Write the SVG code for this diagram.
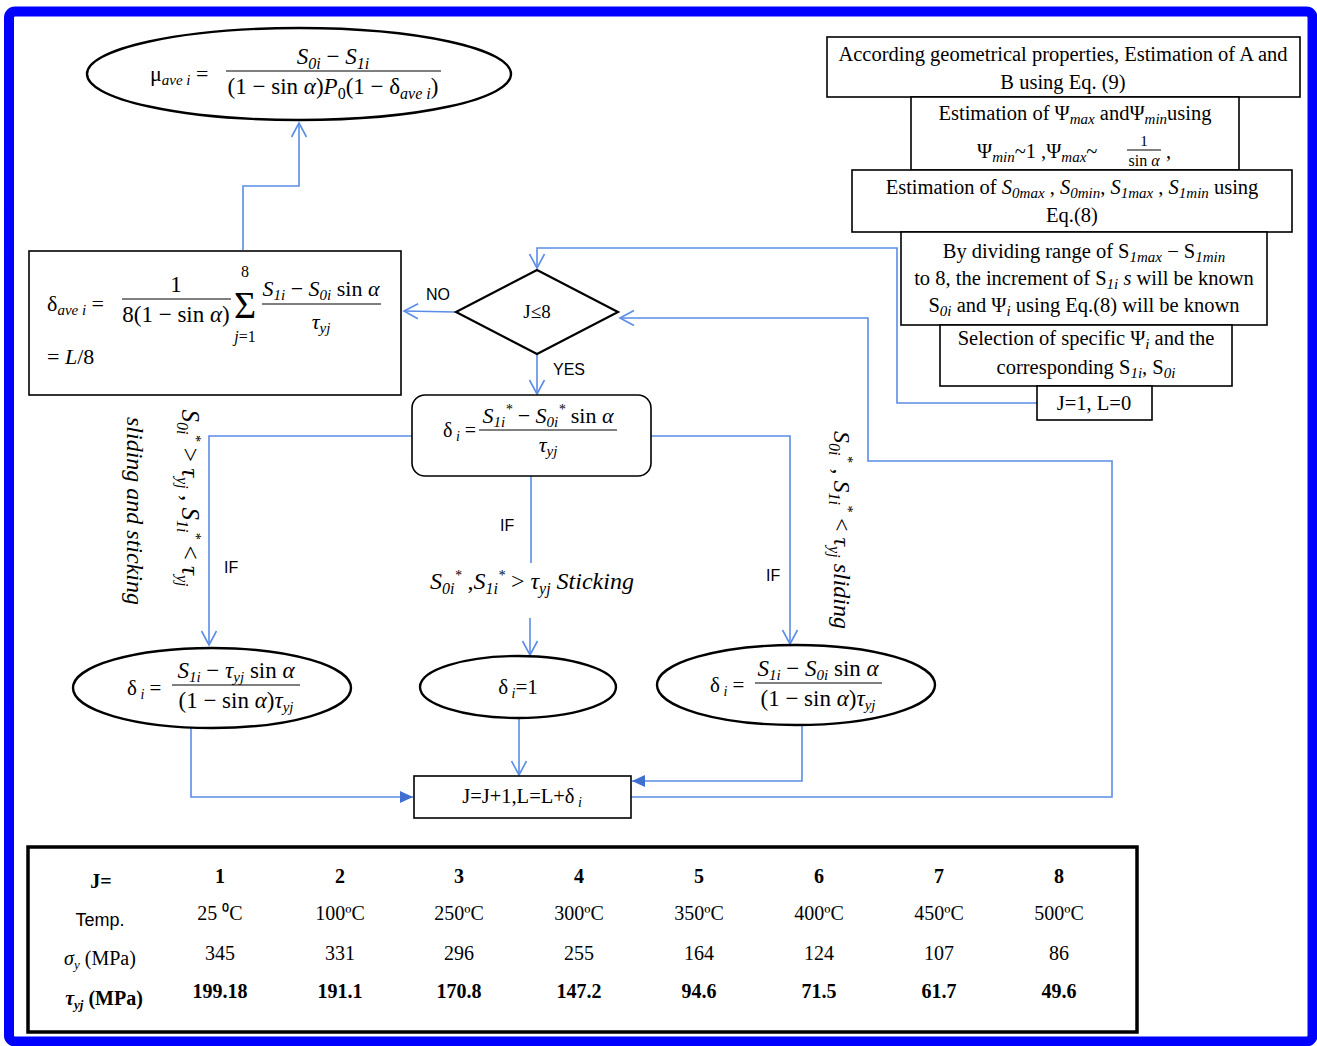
<svg xmlns="http://www.w3.org/2000/svg" width="1317" height="1046" viewBox="0 0 1317 1046">
<defs>
<style>
.box{fill:#fff;stroke:#000;stroke-width:1.6}
.ell{fill:#fff;stroke:#000;stroke-width:2.4}
.conn{fill:none;stroke:#5B8DE8;stroke-width:1.6}
.t{font-family:"Liberation Serif",serif;fill:#000}
.m{font-family:"Liberation Serif",serif;font-style:italic;fill:#000}
.u{font-style:normal}
.i{font-style:italic}
.lab{font-family:"Liberation Sans",sans-serif;font-size:16px;fill:#000}
.fl{stroke:#000;stroke-width:1.2}
.tb{font-family:"Liberation Serif",serif;font-size:20px;fill:#000;text-anchor:middle}
.bd{font-weight:bold}
</style>
<marker id="oa" markerWidth="18" markerHeight="18" refX="15" refY="9" orient="auto" markerUnits="userSpaceOnUse">
<path d="M1,1.5 L15,9 L1,16.5" fill="none" stroke="#5B8DE8" stroke-width="1.6"/>
</marker>
<marker id="fa" markerWidth="14" markerHeight="14" refX="13" refY="7" orient="auto" markerUnits="userSpaceOnUse">
<path d="M0,1 L13,7 L0,13 z" fill="#3F6FD0"/>
</marker>
</defs>
<rect width="1317" height="1046" fill="#fff"/>
<rect x="9" y="11.5" width="1303.5" height="1030" rx="6" fill="none" stroke="#0000FF" stroke-width="10"/>

<g id="connectors">
<path class="conn" d="M243,250 V186 H299 V123" marker-end="url(#oa)"/>
<path class="conn" d="M455,312 L404,311" marker-end="url(#oa)"/>
<path class="conn" d="M537,354 V394" marker-end="url(#oa)"/>
<path class="conn" d="M412,436 H209 V645" marker-end="url(#oa)"/>
<path class="conn" d="M651,436 H790 V644" marker-end="url(#oa)"/>
<path class="conn" d="M531,476 V563"/>
<path class="conn" d="M530,618 V655" marker-end="url(#oa)"/>
<path class="conn" d="M191,728 V797 H413" marker-end="url(#fa)"/>
<path class="conn" d="M519,718 V775" marker-end="url(#oa)"/>
<path class="conn" d="M802,725 V781 H632" marker-end="url(#fa)"/>
<path class="conn" d="M631,797 H1112 V461 H868 V318 H620" marker-end="url(#oa)"/>
<path class="conn" d="M1037,403 H897 V248 H537 V268" marker-end="url(#oa)"/>
<text class="lab" x="426" y="300">NO</text>
<text class="lab" x="553" y="375">YES</text>
<text class="lab" x="500" y="531">IF</text>
<text class="lab" x="224" y="573">IF</text>
<text class="lab" x="766" y="581">IF</text>
<text class="m" font-size="24" x="430" y="589">S<tspan font-size="16" dy="5">0i</tspan><tspan font-size="14" dy="-14">*</tspan><tspan dy="9" class="u"> ,</tspan>S<tspan font-size="16" dy="5">1i</tspan><tspan font-size="14" dy="-14">*</tspan><tspan dy="9" class="u"> &gt; </tspan>τ<tspan font-size="16" dy="5">yj</tspan><tspan dy="-5"> Sticking</tspan></text>
<text class="m" font-size="24" text-anchor="middle" transform="translate(127,511) rotate(90)">sliding and sticking</text>
<text class="m" font-size="25" text-anchor="middle" transform="translate(182,498) rotate(90)">S<tspan font-size="16" dy="5">0i</tspan><tspan font-size="14" dy="-14">*</tspan><tspan dy="9" class="u"> &gt; </tspan>τ<tspan font-size="16" dy="5">yj</tspan><tspan dy="-5" class="u"> , </tspan>S<tspan font-size="16" dy="5">1i</tspan><tspan font-size="14" dy="-14">*</tspan><tspan dy="9" class="u"> &lt; </tspan>τ<tspan font-size="16" dy="5">yj</tspan></text>
<text class="m" font-size="24" text-anchor="middle" transform="translate(834,530) rotate(90)">S<tspan font-size="16" dy="5">0i</tspan><tspan font-size="14" dy="-14">*</tspan><tspan dy="9" class="u"> , </tspan>S<tspan font-size="16" dy="5">1i</tspan><tspan font-size="14" dy="-14">*</tspan><tspan dy="9" class="u"> &lt; </tspan>τ<tspan font-size="16" dy="5">yj</tspan><tspan dy="-5">  sliding</tspan></text>
</g>

<g id="node-mu">
<ellipse class="ell" cx="299" cy="74" rx="212" ry="46"/>
<text class="m" font-size="22" x="150" y="81"><tspan class="u">μ</tspan><tspan font-size="15" dy="4">ave i</tspan><tspan dy="-4" class="u"> =</tspan></text>
<text class="m" font-size="23" x="333" y="64" text-anchor="middle">S<tspan font-size="16" dy="5">0i</tspan><tspan dy="-5" class="u"> − </tspan>S<tspan font-size="16" dy="5">1i</tspan></text>
<line class="fl" x1="226" y1="71" x2="441" y2="71"/>
<text class="m" font-size="23" x="333" y="94" text-anchor="middle"><tspan class="u">(1 − sin </tspan>α<tspan class="u">)</tspan>P<tspan font-size="16" dy="5" class="u">0</tspan><tspan dy="-5" class="u">(1 − δ</tspan><tspan font-size="16" dy="5">ave i</tspan><tspan dy="-5" class="u">)</tspan></text>
</g>

<g id="node-dave">
<rect class="box" x="29" y="251" width="372" height="144" stroke-width="2.4"/>
<text class="m" font-size="22" x="47" y="311"><tspan class="u">δ</tspan><tspan font-size="15" dy="4">ave i</tspan><tspan dy="-4" class="u"> =</tspan></text>
<text class="t" font-size="23" x="176" y="292" text-anchor="middle">1</text>
<line class="fl" x1="122" y1="299" x2="231" y2="299"/>
<text class="m" font-size="23" x="176" y="322" text-anchor="middle"><tspan class="u">8(1 − sin </tspan>α<tspan class="u">)</tspan></text>
<text class="t" font-size="38" x="245" y="318" text-anchor="middle">Σ</text>
<text class="t" font-size="16" x="245" y="277" text-anchor="middle">8</text>
<text class="m" font-size="16" x="245" y="342" text-anchor="middle">j<tspan class="u">=1</tspan></text>
<text class="m" font-size="22" x="321" y="296" text-anchor="middle">S<tspan font-size="15" dy="4">1i</tspan><tspan dy="-4" class="u"> − </tspan>S<tspan font-size="15" dy="4">0i</tspan><tspan dy="-4" class="u"> sin </tspan>α</text>
<line class="fl" x1="262" y1="304" x2="381" y2="304"/>
<text class="m" font-size="22" x="321" y="329" text-anchor="middle">τ<tspan font-size="15" dy="4">yj</tspan></text>
<text class="m" font-size="22" x="47" y="364"><tspan class="u">= </tspan>L<tspan class="u">/8</tspan></text>
</g>

<g id="node-decision">
<polygon points="537,270 618,312 537,354 456,312" fill="#fff" stroke="#000" stroke-width="2.2"/>
<text class="t" font-size="19" x="537" y="318" text-anchor="middle">J≤8</text>
</g>

<g id="node-delta">
<rect class="box" x="412" y="395" width="239" height="81" rx="13" stroke-width="2.4"/>
<text class="m" font-size="20" x="443" y="437"><tspan class="u">δ</tspan><tspan font-size="14" dy="4"> i</tspan><tspan dy="-4" class="u"> =</tspan></text>
<text class="m" font-size="22" x="548" y="423" text-anchor="middle">S<tspan font-size="15" dy="4">1i</tspan><tspan font-size="14" dy="-13">*</tspan><tspan dy="9" class="u"> − </tspan>S<tspan font-size="15" dy="4">0i</tspan><tspan font-size="14" dy="-13">*</tspan><tspan dy="9" class="u"> sin </tspan>α</text>
<line class="fl" x1="479" y1="430" x2="617" y2="430"/>
<text class="m" font-size="22" x="548" y="452" text-anchor="middle">τ<tspan font-size="15" dy="4">yj</tspan></text>
</g>

<g id="node-left">
<ellipse class="ell" cx="212" cy="688" rx="139" ry="40"/>
<text class="m" font-size="21" x="127" y="695"><tspan class="u">δ</tspan><tspan font-size="14" dy="4"> i</tspan><tspan dy="-4" class="u"> =</tspan></text>
<text class="m" font-size="23" x="236" y="678" text-anchor="middle">S<tspan font-size="15" dy="4">1i</tspan><tspan dy="-4" class="u"> − </tspan>τ<tspan font-size="15" dy="4">yj</tspan><tspan dy="-4" class="u"> sin </tspan>α</text>
<line class="fl" x1="172" y1="685" x2="300" y2="685"/>
<text class="m" font-size="23" x="236" y="708" text-anchor="middle"><tspan class="u">(1 − sin </tspan>α<tspan class="u">)</tspan>τ<tspan font-size="15" dy="4">yj</tspan></text>
</g>

<g id="node-mid">
<ellipse class="ell" cx="518" cy="687" rx="98" ry="31"/>
<text class="t" font-size="21" x="518" y="694" text-anchor="middle">δ<tspan font-size="14" dy="4" font-style="italic"> i</tspan><tspan dy="-4">=1</tspan></text>
</g>

<g id="node-right">
<ellipse class="ell" cx="796" cy="685" rx="139" ry="40"/>
<text class="m" font-size="21" x="710" y="692"><tspan class="u">δ</tspan><tspan font-size="14" dy="4"> i</tspan><tspan dy="-4" class="u"> =</tspan></text>
<text class="m" font-size="23" x="818" y="676" text-anchor="middle">S<tspan font-size="15" dy="4">1i</tspan><tspan dy="-4" class="u"> − </tspan>S<tspan font-size="15" dy="4">0i</tspan><tspan dy="-4" class="u"> sin </tspan>α</text>
<line class="fl" x1="755" y1="683" x2="882" y2="683"/>
<text class="m" font-size="23" x="818" y="706" text-anchor="middle"><tspan class="u">(1 − sin </tspan>α<tspan class="u">)</tspan>τ<tspan font-size="15" dy="4">yj</tspan></text>
</g>

<g id="node-update">
<rect class="box" x="414" y="776" width="217" height="42"/>
<text class="t" font-size="20.5" x="522" y="803" text-anchor="middle">J=J+1,L=L+δ<tspan font-size="14" dy="4" font-style="italic"> i</tspan></text>
</g>

<g id="node-step1">
<rect class="box" x="827" y="37" width="473" height="60"/>
<text class="t" font-size="20.5" x="1063" y="61" text-anchor="middle">According geometrical properties, Estimation of A and</text>
<text class="t" font-size="20.5" x="1063" y="89" text-anchor="middle">B using Eq. (9)</text>
</g>

<g id="node-step2">
<rect class="box" x="911" y="97" width="328" height="73"/>
<text class="t" font-size="20.5" x="1075" y="120" text-anchor="middle">Estimation of Ψ<tspan font-size="15" dy="4" class="i">max</tspan><tspan dy="-4"> andΨ</tspan><tspan font-size="15" dy="4" class="i">min</tspan><tspan dy="-4">using</tspan></text>
<text class="t" font-size="20.5" x="977" y="158">Ψ<tspan font-size="15" dy="4" class="i">min</tspan><tspan dy="-4">~1 ,Ψ</tspan><tspan font-size="15" dy="4" class="i">max</tspan><tspan dy="-4">~</tspan></text>
<text class="t" font-size="15" x="1144" y="146" text-anchor="middle">1</text>
<line class="fl" x1="1127" y1="150" x2="1161" y2="150" stroke-width="1"/>
<text class="t" font-size="16" x="1144" y="166" text-anchor="middle">sin <tspan class="i">α</tspan></text>
<text class="t" font-size="20.5" x="1166" y="158">,</text>
</g>

<g id="node-step3">
<rect class="box" x="852" y="170" width="440" height="62"/>
<text class="t" font-size="20.5" x="1072" y="194" text-anchor="middle">Estimation of  <tspan class="i">S</tspan><tspan font-size="15" dy="4" class="i">0max</tspan><tspan dy="-4"> , </tspan><tspan class="i">S</tspan><tspan font-size="15" dy="4" class="i">0min</tspan><tspan dy="-4">, </tspan><tspan class="i">S</tspan><tspan font-size="15" dy="4" class="i">1max</tspan><tspan dy="-4"> , </tspan><tspan class="i">S</tspan><tspan font-size="15" dy="4" class="i">1min</tspan><tspan dy="-4"> using</tspan></text>
<text class="t" font-size="20.5" x="1072" y="222" text-anchor="middle">Eq.(8)</text>
</g>

<g id="node-step4">
<rect class="box" x="901" y="232" width="366" height="93"/>
<text class="t" font-size="20.5" x="1084" y="258" text-anchor="middle">By dividing range of S<tspan font-size="15" dy="4" class="i">1max</tspan><tspan dy="-4"> −  S</tspan><tspan font-size="15" dy="4" class="i">1min</tspan></text>
<text class="t" font-size="20.5" x="1084" y="285" text-anchor="middle">to 8, the increment of S<tspan font-size="15" dy="4" class="i">1i</tspan><tspan dy="-4" class="i"> s</tspan><tspan> will be known</tspan></text>
<text class="t" font-size="20.5" x="1084" y="312" text-anchor="middle">S<tspan font-size="15" dy="4" class="i">0i</tspan><tspan dy="-4"> and Ψ</tspan><tspan font-size="15" dy="4" class="i">i</tspan><tspan dy="-4"> using Eq.(8) will be known</tspan></text>
</g>

<g id="node-step5">
<rect class="box" x="940" y="325" width="292" height="61"/>
<text class="t" font-size="20.5" x="1086" y="345" text-anchor="middle">Selection of specific Ψ<tspan font-size="15" dy="4" class="i">i</tspan><tspan dy="-4">  and  the</tspan></text>
<text class="t" font-size="20.5" x="1086" y="374" text-anchor="middle">corresponding S<tspan font-size="15" dy="4" class="i">1i</tspan><tspan dy="-4">, S</tspan><tspan font-size="15" dy="4" class="i">0i</tspan></text>
</g>

<g id="node-init">
<rect class="box" x="1037" y="386" width="115" height="34"/>
<text class="t" font-size="20.5" x="1094" y="410" text-anchor="middle">J=1, L=0</text>
</g>

<g id="table">
<rect x="28" y="847" width="1109" height="185" fill="#fff" stroke="#000" stroke-width="3.5"/>
<text class="tb bd" x="101" y="888">J=</text>
<text x="100" y="926" font-family="Liberation Sans,sans-serif" font-size="18" text-anchor="middle">Temp.</text>
<text class="tb" x="100" y="965"><tspan class="i">σ</tspan><tspan font-size="13" dy="4" class="i">y</tspan><tspan dy="-4"> (MPa)</tspan></text>
<text class="tb bd" x="104" y="1005"><tspan class="i">τ</tspan><tspan font-size="13" dy="4" class="i">yj</tspan><tspan dy="-4"> (MPa)</tspan></text>
<text class="tb bd" x="220" y="883">1</text><text class="tb bd" x="340" y="883">2</text><text class="tb bd" x="459" y="883">3</text><text class="tb bd" x="579" y="883">4</text><text class="tb bd" x="699" y="883">5</text><text class="tb bd" x="819" y="883">6</text><text class="tb bd" x="939" y="883">7</text><text class="tb bd" x="1059" y="883">8</text>
<text class="tb" x="220" y="920">25 ⁰C</text><text class="tb" x="340" y="920">100ºC</text><text class="tb" x="459" y="920">250ºC</text><text class="tb" x="579" y="920">300ºC</text><text class="tb" x="699" y="920">350ºC</text><text class="tb" x="819" y="920">400ºC</text><text class="tb" x="939" y="920">450ºC</text><text class="tb" x="1059" y="920">500ºC</text>
<text class="tb" x="220" y="960">345</text><text class="tb" x="340" y="960">331</text><text class="tb" x="459" y="960">296</text><text class="tb" x="579" y="960">255</text><text class="tb" x="699" y="960">164</text><text class="tb" x="819" y="960">124</text><text class="tb" x="939" y="960">107</text><text class="tb" x="1059" y="960">86</text>
<text class="tb bd" x="220" y="998">199.18</text><text class="tb bd" x="340" y="998">191.1</text><text class="tb bd" x="459" y="998">170.8</text><text class="tb bd" x="579" y="998">147.2</text><text class="tb bd" x="699" y="998">94.6</text><text class="tb bd" x="819" y="998">71.5</text><text class="tb bd" x="939" y="998">61.7</text><text class="tb bd" x="1059" y="998">49.6</text>
</g>
</svg>
